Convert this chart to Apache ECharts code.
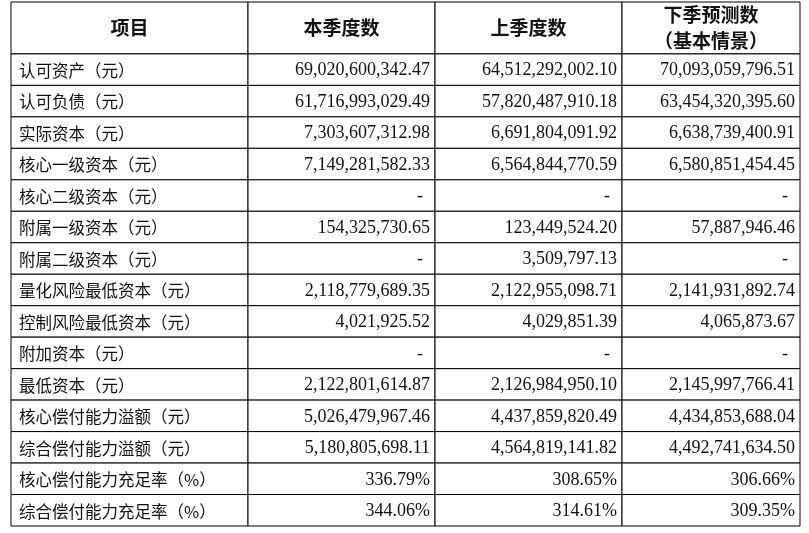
<!DOCTYPE html>
<html><head><meta charset="utf-8">
<script src="https://cdn.jsdelivr.net/npm/echarts@6/dist/echarts.min.js"></script>
<style>html,body{margin:0;padding:0;background:#fff}#c{width:809px;height:533px}</style>
</head><body><div id="c"></div>
<script>
const headers = ['项目', '本季度数', '上季度数', '下季预测数\n（基本情景）'];
const items = ['认可资产（元）','认可负债（元）','实际资本（元）','核心一级资本（元）','核心二级资本（元）','附属一级资本（元）','附属二级资本（元）','量化风险最低资本（元）','控制风险最低资本（元）','附加资本（元）','最低资本（元）','核心偿付能力溢额（元）','综合偿付能力溢额（元）','核心偿付能力充足率（%）','综合偿付能力充足率（%）'];
const current = ['69,020,600,342.47','61,716,993,029.49','7,303,607,312.98','7,149,281,582.33','-','154,325,730.65','-','2,118,779,689.35','4,021,925.52','-','2,122,801,614.87','5,026,479,967.46','5,180,805,698.11','336.79%','344.06%'];
const previous = ['64,512,292,002.10','57,820,487,910.18','6,691,804,091.92','6,564,844,770.59','-','123,449,524.20','3,509,797.13','2,122,955,098.71','4,029,851.39','-','2,126,984,950.10','4,437,859,820.49','4,564,819,141.82','308.65%','314.61%'];
const forecast = ['70,093,059,796.51','63,454,320,395.60','6,638,739,400.91','6,580,851,454.45','-','57,887,946.46','-','2,141,931,892.74','4,065,873.67','-','2,145,997,766.41','4,434,853,688.04','4,492,741,634.50','306.66%','309.35%'];

const colEdges = [0, 237, 424, 611, 789];
const HEAD = 1.65;
const cells = [];
headers.forEach((h, c) => cells.push([c, -1, h]));
items.forEach((it, r) => {
  cells.push([0, r, it]);
  cells.push([1, r, current[r]]);
  cells.push([2, r, previous[r]]);
  cells.push([3, r, forecast[r]]);
});
const chart = echarts.init(document.getElementById('c'));
chart.setOption({
  animation: false,
  grid: {left: 11, right: 9, top: 2, bottom: 7},
  xAxis: {type: 'value', min: 0, max: 789, show: false},
  yAxis: {type: 'value', min: 0, max: items.length + HEAD, inverse: true, show: false},
  series: [{
    type: 'custom',
    data: cells,
    renderItem: function (params, api) {
      const c = api.value(0), r = api.value(1);
      const txt = cells[params.dataIndex][2];
      const y0v = r < 0 ? 0 : HEAD + r, y1v = r < 0 ? HEAD : HEAD + r + 1;
      const p0 = api.coord([colEdges[c], y0v]);
      const p1 = api.coord([colEdges[c + 1], y1v]);
      const isHead = r < 0;
      const isDash = txt === '-';
      let tx, align;
      if (isHead) { tx = (p0[0] + p1[0]) / 2; align = 'center'; }
      else if (c === 0) { tx = p0[0] + 8; align = 'left'; }
      else if (isDash) { tx = p1[0] - 12; align = 'right'; }
      else { tx = p1[0] - 5; align = 'right'; }
      return {
        type: 'group',
        children: [
          {type: 'rect', shape: {x: p0[0], y: p0[1], width: p1[0] - p0[0], height: p1[1] - p0[1]},
           style: {fill: '#fff', stroke: '#000', lineWidth: 1}},
          {type: 'text', style: {
            x: tx, y: (p0[1] + p1[1]) / 2 + (isHead ? 0 : 1), text: txt,
            align: align, verticalAlign: 'middle',
            fontFamily: (c === 0 || isHead) ? 'Noto Sans CJK SC' : 'Liberation Serif',
            fontWeight: isHead ? 'bold' : 'normal',
            fontSize: isHead ? 19 : (c === 0 ? 16.5 : 18),
            lineHeight: 26,
            fill: '#111'
          }}
        ]
      };
    }
  }]
});
</script></body></html>
